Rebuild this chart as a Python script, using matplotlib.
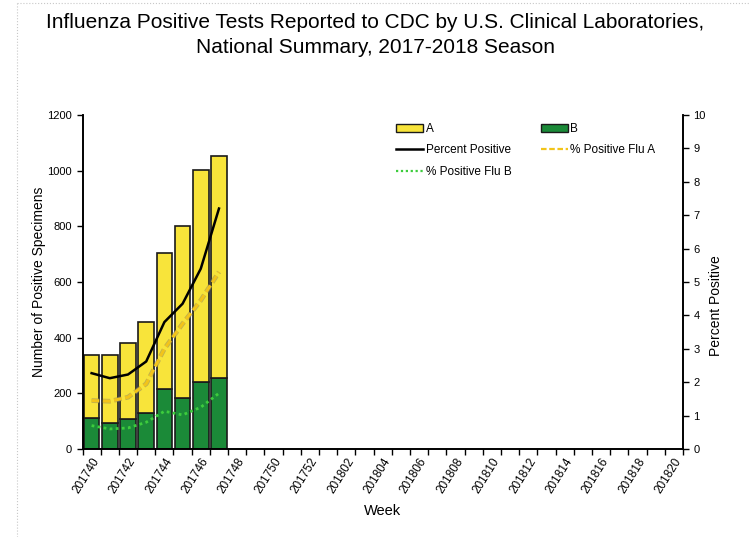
import matplotlib
matplotlib.use('Agg')
import matplotlib.pyplot as plt
import matplotlib.patheffects as pe
from matplotlib.patches import Patch
from matplotlib.lines import Line2D
import numpy as np

plt.rcParams['font.family'] = ['Liberation Sans', 'DejaVu Sans']

# season weeks 201740 .. 201820
weeks = [f"2017{w:02d}" for w in range(40, 53)] + [f"2018{w:02d}" for w in range(1, 21)]

# reported weeks so far
flu_a = [226, 242, 273, 325, 491, 616, 761, 796]
flu_b = [110, 94, 108, 130, 214, 184, 241, 256]
pct_positive = [2.27, 2.12, 2.23, 2.62, 3.8, 4.35, 5.4, 7.2]
pct_flu_a = [1.45, 1.43, 1.55, 1.95, 3.0, 3.75, 4.45, 5.3]
pct_flu_b = [0.7, 0.6, 0.63, 0.8, 1.13, 1.02, 1.25, 1.67]

yellow = '#F8E43A'
green = '#1B8A38'

fig = plt.figure(figsize=(7.5, 5.37), dpi=100)
ax = fig.add_axes([0.11, 0.1639, 0.8007, 0.6219])
ax2 = ax.twinx()

x = np.arange(len(flu_a))
ax.bar(x, flu_b, width=0.86, color=green, edgecolor='#1a1a1a', linewidth=1.2, zorder=2)
ax.bar(x, flu_a, bottom=flu_b, width=0.86, color=yellow, edgecolor='#1a1a1a', linewidth=1.2, zorder=2)

ax2.plot(x, pct_positive, color='black', linewidth=1.8, zorder=3)
ax2.plot(x, pct_flu_a, color='#F2C41A', linewidth=2.2, linestyle=(0, (2.5, 1.2)),
         path_effects=[pe.Stroke(linewidth=3.4, foreground='#9a9060', alpha=0.6), pe.Normal()], zorder=3)
ax2.plot(x, pct_flu_b, color='#3DCC3D', linewidth=2.0, linestyle=(0, (1, 1.2)), zorder=3)

ax.set_xlim(-0.5, len(weeks) - 0.5)
ax.set_ylim(0, 1200)
ax2.set_ylim(0, 10)
ax.set_yticks(range(0, 1201, 200))
ax2.set_yticks(range(0, 11))

ax.set_xticks(np.arange(0, len(weeks), 2))
ax.set_xticklabels(weeks[::2], rotation=58, ha='right', rotation_mode='anchor')
ax.set_xticks(np.arange(-0.5, len(weeks), 1), minor=True)
ax.tick_params(axis='x', which='major', length=0, labelsize=8.5, pad=5)
ax.tick_params(axis='x', which='minor', direction='out', length=4, width=1)
ax.tick_params(axis='y', direction='out', length=4, width=1, labelsize=8)
ax2.tick_params(axis='y', direction='out', length=4, width=1, labelsize=8)

for a in (ax, ax2):
    a.spines['top'].set_visible(False)
    for s in ('left', 'right', 'bottom'):
        a.spines[s].set_linewidth(1.2)

ax.set_xlabel('Week', fontsize=10.5, labelpad=6)
ax.set_ylabel('Number of Positive Specimens', fontsize=10, labelpad=1)
ax2.set_ylabel('Percent Positive', fontsize=10, labelpad=2)
ax2.yaxis.label.set_y(0.43)

fig.text(0.5, 0.9484, 'Influenza Positive Tests Reported to CDC by U.S. Clinical Laboratories,',
         ha='center', va='baseline', fontsize=15)
fig.text(0.5, 0.9013, 'National Summary, 2017-2018 Season', ha='center', va='baseline', fontsize=15)

handles = [
    Patch(facecolor=yellow, edgecolor='#1a1a1a', linewidth=1),
    Line2D([], [], color='black', linewidth=1.8),
    Line2D([], [], color='#3DCC3D', linewidth=1.6, linestyle=(0, (1, 1.2))),
    Patch(facecolor=green, edgecolor='#1a1a1a', linewidth=1),
    Line2D([], [], color='#F2C41A', linewidth=1.6, linestyle=(0, (2.5, 1.2))),
]
labels = ['A', 'Percent Positive', '% Positive Flu B', 'B', '% Positive Flu A']
fig.legend(handles, labels, ncol=2, loc='upper left', bbox_to_anchor=(0.528, 0.771),
           frameon=False, fontsize=8.5, handlelength=2.3, handleheight=0.6, handletextpad=0.2,
           columnspacing=2.5, labelspacing=0.8, borderpad=0, borderaxespad=0)

# faint dotted page border
fig.add_artist(Line2D([0.023, 1], [0.994, 0.994], transform=fig.transFigure,
                      color='#c8c8c8', linewidth=0.8, linestyle=':'))
fig.add_artist(Line2D([0.023, 0.023], [0, 0.994], transform=fig.transFigure,
                      color='#c8c8c8', linewidth=0.8, linestyle=':'))

fig.savefig('out.png', dpi=100)
